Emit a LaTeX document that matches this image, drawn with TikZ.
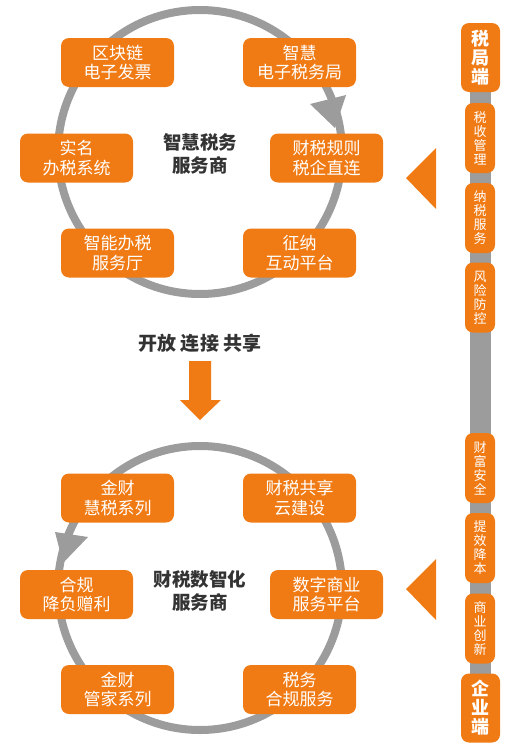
\documentclass[tikz,border=0pt]{standalone}
\usepackage{fontspec}
\setmainfont{Noto Sans CJK SC}
\definecolor{orc}{HTML}{F07B15}
\definecolor{ringg}{HTML}{9C9C9C}
\definecolor{txtd}{HTML}{333333}
\begin{document}
\begin{tikzpicture}[x=1pt,y=-1pt,
  box/.style={fill=orc, rounded corners=8pt, minimum width=113pt, minimum height=49pt, text=white, font=\fontsize{17}{19.5}\selectfont, align=center, inner sep=0pt},
  vbox/.style={fill=orc, rounded corners=8pt, minimum width=30pt, minimum height=70pt, text=white, font=\fontsize{13}{14}\selectfont, align=center, inner sep=0pt},
  endbox/.style={fill=orc, rounded corners=8pt, minimum width=39pt, minimum height=69pt, text=white, font=\bfseries\fontsize{18}{19}\selectfont, align=center, inner sep=0pt},
  ctitle/.style={text=txtd, font=\bfseries\fontsize{18.5}{23}\selectfont, align=center, inner sep=0pt},
  ringline/.style={draw=ringg, line width=8pt},
  ahead/.style={fill=ringg}
]
\useasboundingbox (0,0) rectangle (519,755);
% right bar
\fill[ringg] (470,85) rectangle (491,690);
\fill[orc] (406,178) -- (436,148) -- (436,209) -- cycle;
\fill[orc] (406,589) -- (436,559) -- (436,620) -- cycle;
\node[endbox] (tj) at (480.5,57.5) {税\\局\\端};
\node[vbox] (v1) at (480,138) {税\\收\\管\\理};
\node[vbox] (v2) at (480,218) {纳\\税\\服\\务};
\node[vbox] (v3) at (480,297.5) {风\\险\\防\\控};
\node[vbox] (v4) at (480,468) {财\\富\\安\\全};
\node[vbox] (v5) at (480,548) {提\\效\\降\\本};
\node[vbox] (v6) at (480,628.5) {商\\业\\创\\新};
\node[endbox] (qy) at (480.5,708) {企\\业\\端};
% top ring
\coordinate (c1) at (200,152);
\draw[ringline] (c1) circle[radius=142pt];
\fill[ahead] (310,104) -- (346,95) -- (335,128) -- cycle;
\node[box] (a1) at (117.5,62.5) {区块链\\电子发票};
\node[box] (a2) at (299.5,62.5) {智慧\\电子税务局};
\node[box] (a3) at (76.5,158) {实名\\办税系统};
\node[box] (a4) at (326.5,158) {财税规则\\税企直连};
\node[box] (a5) at (117.5,253) {智能办税\\服务厅};
\node[box] (a6) at (299.5,253) {征纳\\互动平台};
\node[ctitle] (t1) at (200,154) {智慧税务\\服务商};
% middle
\node[text=txtd, font=\bfseries\fontsize{19}{22}\selectfont, inner sep=0pt] (mid) at (200,343) {开放 连接 共享};
\fill[orc] (189,361) -- (211,361) -- (211,400) -- (221,400) -- (200,420) -- (180,400) -- (189,400) -- cycle;
% bottom ring
\coordinate (c2) at (200,588);
\draw[ringline] (c2) circle[radius=142pt];
\fill[ahead] (55,532) -- (88,537) -- (63,563) -- cycle;
\node[box] (b1) at (117.5,498) {金财\\慧税系列};
\node[box] (b2) at (299.5,498) {财税共享\\云建设};
\node[box] (b3) at (76.5,594.5) {合规\\降负赠利};
\node[box] (b4) at (326.5,594.5) {数字商业\\服务平台};
\node[box] (b5) at (117.5,689.5) {金财\\管家系列};
\node[box] (b6) at (299.5,689.5) {税务\\合规服务};
\node[ctitle] (t2) at (200,591) {财税数智化\\服务商};
\end{tikzpicture}
\end{document}
